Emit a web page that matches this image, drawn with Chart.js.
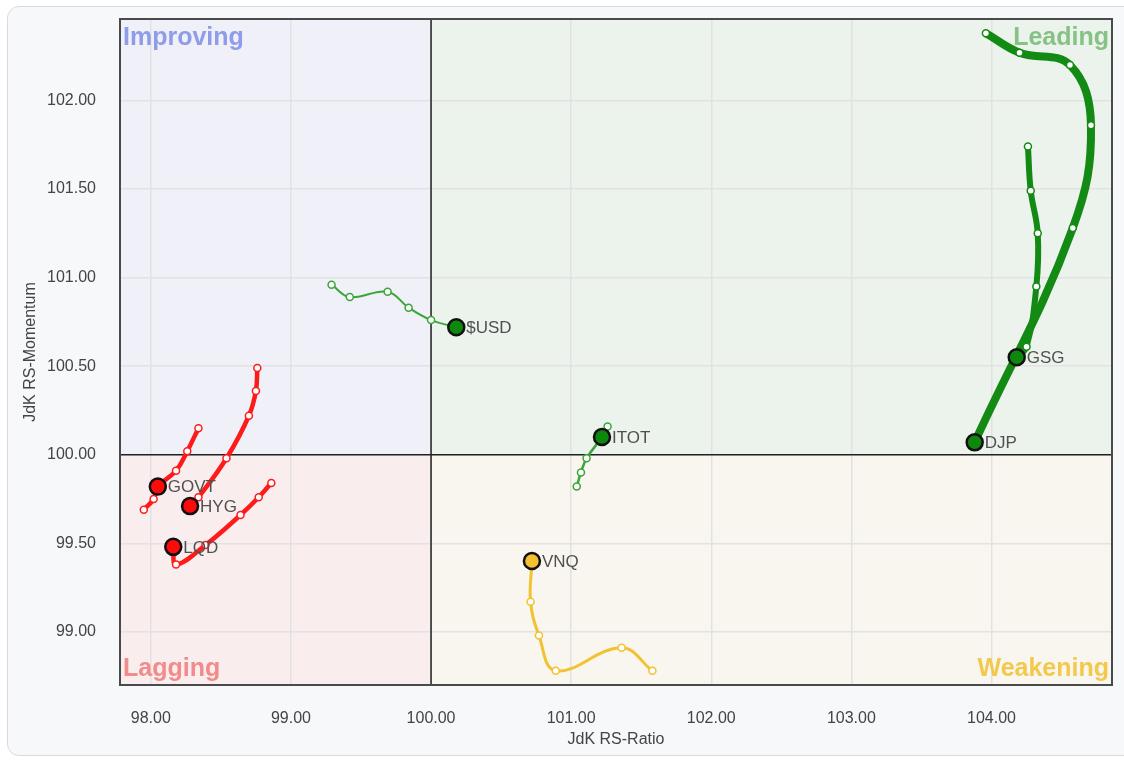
<!DOCTYPE html>
<html>
<head>
<meta charset="utf-8">
<script src="https://cdn.jsdelivr.net/npm/chart.js@4.4.1/dist/chart.umd.min.js"></script>
<style>
  html, body { margin: 0; padding: 0; background: #fff; overflow: hidden; }
  #card { position: absolute; left: 7px; top: 6px; width: 1140px; height: 748px; background: #f7f8fa; border: 1px solid #d9dadd; border-radius: 12px; }
  #rrg { position: absolute; left: 0; top: 0; }
</style>
</head>
<body>
<div id="card"></div>
<canvas id="rrg" width="1124" height="762"></canvas>
<script>
// tick labels
const xTicks = [98, 99, 100, 101, 102, 103, 104];
const yTicks = [99, 99.5, 100, 100.5, 101, 101.5, 102];

const quadrantNames = ["Improving", "Leading", "Lagging", "Weakening"];

// latest point of each ticker
const tickers = ["$USD", "ITOT", "VNQ", "GOVT", "HYG", "LQD", "GSG", "DJP"];
const headX = [100.18, 101.22, 100.72, 98.05, 98.28, 98.16, 104.18, 103.88];
const headY = [100.72, 100.10, 99.40, 99.82, 99.71, 99.48, 100.55, 100.07];

// tails, in drawing order
const usdX = [99.29, 99.42, 99.69, 99.84, 100.00, 100.18];
const usdY = [100.96, 100.89, 100.92, 100.83, 100.76, 100.72];
const itotX = [101.04, 101.07, 101.11, 101.22, 101.26];
const itotY = [99.82, 99.90, 99.98, 100.10, 100.16];
const vnqX = [101.58, 101.36, 100.89, 100.77, 100.71, 100.72];
const vnqY = [98.78, 98.91, 98.78, 98.98, 99.17, 99.40];
const govtX = [98.34, 98.26, 98.18, 98.05, 98.02, 97.95];
const govtY = [100.15, 100.02, 99.91, 99.82, 99.75, 99.69];
const hygX = [98.76, 98.75, 98.70, 98.54, 98.34, 98.28];
const hygY = [100.49, 100.36, 100.22, 99.98, 99.76, 99.71];
const lqdX = [98.86, 98.77, 98.64, 98.39, 98.18, 98.16];
const lqdY = [99.84, 99.76, 99.66, 99.49, 99.38, 99.48];
const gsgX = [104.26, 104.28, 104.33, 104.32, 104.25, 104.18];
const gsgY = [101.74, 101.49, 101.25, 100.95, 100.61, 100.55];
const djpX = [103.96, 104.20, 104.56, 104.71, 104.58, 103.88];
const djpY = [102.38, 102.27, 102.20, 101.86, 101.28, 100.07];

const FONT = "'Liberation Sans', Arial, sans-serif";
const GREEN_DARK = "#138a13";
const GREEN = "#3aa53a";
const RED = "#ff1a1a";
const YELLOW = "#f2c232";

const headFill = ["#0e870e", "#0e870e", "#f5c02f", "#ff0a0a", "#ff0a0a", "#ff0a0a", "#0e870e", "#0e870e"];

const toPoints = (xs, ys) => xs.map((x, i) => ({ x: x, y: ys[i] }));

const tail = (xs, ys, color, width) => ({
  data: toPoints(xs, ys),
  showLine: true,
  borderColor: color,
  borderWidth: width,
  tension: 0.4,
  pointRadius: 3.5,
  pointBackgroundColor: "#fff",
  pointBorderColor: color,
  pointBorderWidth: 1.5,
  order: 2,
});

const quadrants = {
  id: "quadrants",
  beforeDraw(chart) {
    const { ctx, chartArea: a, scales: { x, y } } = chart;
    const cx = x.getPixelForValue(100);
    const cy = y.getPixelForValue(100);
    ctx.save();
    ctx.fillStyle = "#eff0f8"; ctx.fillRect(a.left, a.top, cx - a.left, cy - a.top);
    ctx.fillStyle = "#ecf3ec"; ctx.fillRect(cx, a.top, a.right - cx, cy - a.top);
    ctx.fillStyle = "#f9eded"; ctx.fillRect(a.left, cy, cx - a.left, a.bottom - cy);
    ctx.fillStyle = "#f8f6ee"; ctx.fillRect(cx, cy, a.right - cx, a.bottom - cy);
    ctx.restore();
  },
  beforeDatasetsDraw(chart) {
    const { ctx, chartArea: a, scales: { x, y } } = chart;
    const cx = x.getPixelForValue(100);
    const cy = y.getPixelForValue(100);
    ctx.save();
    // quadrant names
    ctx.font = "bold 25px " + FONT;
    ctx.textBaseline = "alphabetic";
    ctx.textAlign = "left";
    ctx.fillStyle = "#8e9cea"; ctx.fillText(quadrantNames[0], a.left + 3, a.top + 26);
    ctx.fillStyle = "#f28b8b"; ctx.fillText(quadrantNames[2], a.left + 3, a.bottom - 9);
    ctx.textAlign = "right";
    ctx.fillStyle = "#85c285"; ctx.fillText(quadrantNames[1], a.right - 3, a.top + 26);
    ctx.fillStyle = "#f2c94c"; ctx.fillText(quadrantNames[3], a.right - 3, a.bottom - 9);
    // centre lines
    ctx.strokeStyle = "#222";
    ctx.lineWidth = 1.5;
    ctx.beginPath();
    ctx.moveTo(cx, a.top); ctx.lineTo(cx, a.bottom);
    ctx.moveTo(a.left, cy); ctx.lineTo(a.right, cy);
    ctx.stroke();
    // frame
    ctx.strokeStyle = "#4a4a4a";
    ctx.lineWidth = 2;
    ctx.strokeRect(a.left, a.top, a.right - a.left, a.bottom - a.top);
    ctx.restore();
  },
  afterDatasetsDraw(chart) {
    const { ctx, scales: { x, y } } = chart;
    ctx.save();
    ctx.font = "17px " + FONT;
    ctx.fillStyle = "#505050";
    ctx.textAlign = "left";
    ctx.textBaseline = "middle";
    tickers.forEach((t, i) => {
      ctx.fillText(t, x.getPixelForValue(headX[i]) + 10, y.getPixelForValue(headY[i]) + 1);
    });
    ctx.restore();
  },
};

new Chart(document.getElementById("rrg"), {
  type: "scatter",
  data: {
    datasets: [
      {
        data: toPoints(headX, headY),
        pointRadius: 8,
        pointBackgroundColor: headFill,
        pointBorderColor: "#111",
        pointBorderWidth: 2.5,
        order: 0,
      },
      tail(usdX, usdY, GREEN, 2),
      tail(itotX, itotY, GREEN, 2.5),
      tail(vnqX, vnqY, YELLOW, 3),
      tail(govtX, govtY, RED, 4.5),
      tail(hygX, hygY, RED, 4.5),
      tail(lqdX, lqdY, RED, 4.5),
      tail(gsgX, gsgY, GREEN_DARK, 6),
      tail(djpX, djpY, GREEN_DARK, 8),
    ],
  },
  options: {
    responsive: false,
    animation: false,
    layout: { padding: { left: 0, right: 12, top: 19, bottom: 0 } },
    plugins: {
      legend: { display: false },
      tooltip: { enabled: false },
    },
    scales: {
      x: {
        type: "linear",
        min: 97.78,
        max: 104.86,
        afterBuildTicks: (s) => { s.ticks = xTicks.map((v) => ({ value: v })); },
        afterFit: (s) => { s.height = 77; s.paddingLeft = 0; s.paddingRight = 0; },
        grid: { color: "#e2e2e2", lineWidth: 1.5, drawTicks: false },
        border: { display: false },
        ticks: {
          padding: 24,
          color: "#444",
          font: { family: FONT, size: 16 },
          callback: (v) => v.toFixed(2),
        },
        title: {
          display: true,
          text: "JdK RS-Ratio",
          color: "#444",
          font: { family: FONT, size: 16 },
          padding: { top: 0, bottom: 13 },
        },
      },
      y: {
        type: "linear",
        min: 98.70,
        max: 102.46,
        afterBuildTicks: (s) => { s.ticks = yTicks.map((v) => ({ value: v })); },
        afterFit: (s) => { s.width = 120; s.paddingTop = 0; s.paddingBottom = 0; },
        grid: { color: "#e2e2e2", lineWidth: 1.5, drawTicks: false },
        border: { display: false },
        ticks: {
          padding: 24,
          color: "#444",
          font: { family: FONT, size: 16 },
          callback: (v) => v.toFixed(2),
        },
        title: {
          display: true,
          text: "JdK RS-Momentum",
          color: "#444",
          font: { family: FONT, size: 16 },
          padding: { top: 21, bottom: 0 },
        },
      },
    },
  },
  plugins: [quadrants],
});
</script>
</body>
</html>
